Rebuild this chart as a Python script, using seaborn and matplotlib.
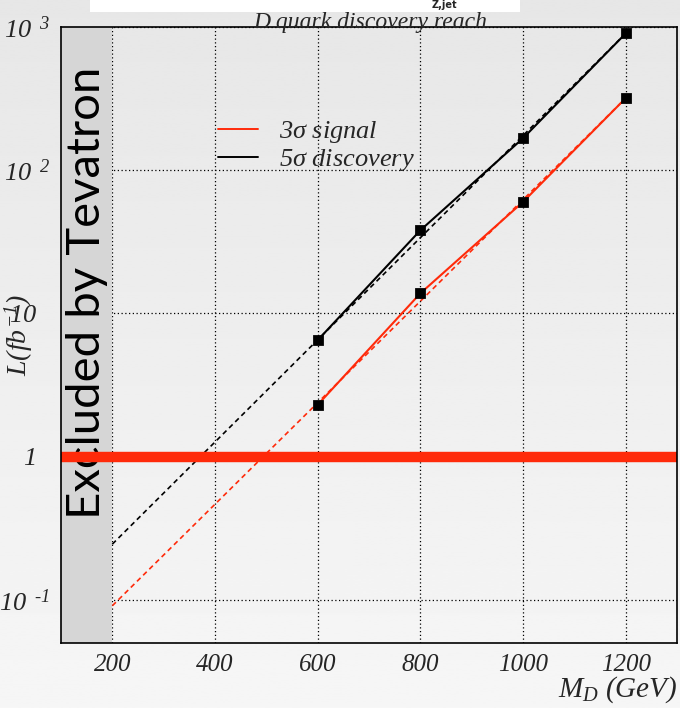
import matplotlib
matplotlib.use("Agg")
import matplotlib.pyplot as plt
import seaborn as sns
import numpy as np
import pandas as pd
from matplotlib.ticker import FixedLocator, MultipleLocator, NullFormatter, LogLocator
from matplotlib.lines import Line2D
from matplotlib.transforms import ScaledTranslation

# ---- data ----
masses = [600, 800, 1000, 1200]
lumi_3sigma = [2.3, 13.8, 60.0, 318.0]
lumi_5sigma = [6.5, 38.0, 167.0, 900.0]
fit_x = [200, 1200]
fit_3sigma = [0.091, 318.0]
fit_5sigma = [0.245, 900.0]
excluded_range = [100, 200]
x_ticks = [200, 400, 600, 800, 1000, 1200]
y_ticks = [0.1, 1, 10, 100, 1000]
y_tick_labels = [r"$10^{\ \ \text{-}1}$", r"$1$", r"$10$",
                 r"$10^{\ \ 2}$", r"$10^{\ \ 3}$"]
series_names = [r"3$\sigma$ signal", r"5$\sigma$ discovery"]

sns.set_theme(style="white")
plt.rcParams["font.family"] = ["Liberation Serif", "DejaVu Serif"]
plt.rcParams["mathtext.fontset"] = "custom"
plt.rcParams["mathtext.it"] = "Liberation Serif:italic"
plt.rcParams["mathtext.rm"] = "Liberation Serif:italic"
plt.rcParams["mathtext.sf"] = "Liberation Serif:italic"

fig = plt.figure(figsize=(6.8, 7.08), dpi=100, facecolor="#ececec")
# soft vertical gradient background
bg = fig.add_axes([0, 0, 1, 1], zorder=-10)
grad = np.linspace(0.905, 0.965, 256).reshape(-1, 1)
bg.imshow(grad, cmap="gray", vmin=0, vmax=1, aspect="auto", extent=[0, 1, 0, 1], origin="upper")
bg.axis("off")

ax = fig.add_axes([0.0897, 0.0918, 0.9059, 0.8702])
ax.set_facecolor("none")

df = pd.DataFrame({
    "M": masses * 2,
    "L": lumi_3sigma + lumi_5sigma,
    "series": [series_names[0]] * 4 + [series_names[1]] * 4,
})
palette = {series_names[0]: "#ff2a0a", series_names[1]: "black"}

# fit dashed lines
fit_df = pd.DataFrame({"M": fit_x * 2, "L": fit_3sigma + fit_5sigma,
                       "series": [series_names[0]] * 2 + [series_names[1]] * 2})
sns.lineplot(data=fit_df, x="M", y="L", hue="series", palette=palette, ax=ax,
             linestyle=(0, (3, 2.2)), linewidth=1.2, legend=False, zorder=3)

sns.lineplot(data=df, x="M", y="L", hue="series", palette=palette, ax=ax,
             linewidth=1.5, legend=False, zorder=4)
sns.scatterplot(data=df, x="M", y="L", color="black", marker="s", s=50,
                edgecolor="black", ax=ax, legend=False, zorder=5)

ax.set_yscale("log")
ax.set_xlim(100, 1300)
ax.set_ylim(0.05, 1000)

# excluded region
ax.axvspan(excluded_range[0], excluded_range[1], color="#d6d6d6", zorder=1, lw=0)
ax.text(150, 14, "Excluded by Tevatron", rotation=90, ha="center", va="center",
        fontsize=34, family=["Lato", "DejaVu Sans"], color="black", zorder=6)

# horizontal line at 1
ax.axhline(1, color="#ff2a0a", lw=7.5, zorder=6, solid_capstyle="butt")

# ticks / grid
ax.xaxis.set_major_locator(FixedLocator(x_ticks))
ax.xaxis.set_minor_locator(MultipleLocator(50))
ax.set_xticklabels([str(v) for v in x_ticks], fontsize=18, style="italic")
ax.yaxis.set_major_locator(FixedLocator(y_ticks))
ax.set_yticklabels(y_tick_labels, fontsize=19)
ax.yaxis.set_minor_locator(LogLocator(base=10, subs=np.arange(2, 10)))
ax.yaxis.set_minor_formatter(NullFormatter())
ax.tick_params(axis="both", which="major", direction="in", length=10, width=1, color="black", pad=8)
ax.tick_params(axis="both", which="minor", direction="in", length=5, width=1, color="black")
ax.tick_params(axis="y", which="major", pad=8)
ax.grid(True, which="major", linestyle=(0, (1, 2)), color="black", linewidth=0.9)
for s in ax.spines.values():
    s.set_color("black")
    s.set_linewidth(1.2)
    s.set_zorder(10)

# shift the plain "1" and "10" labels left (ROOT-like alignment)
label_shift_px = {1: -15, 2: -13}
yticks_objs = ax.yaxis.get_major_ticks()
for idx, dx in label_shift_px.items():
    lbl = yticks_objs[idx].label1
    lbl.set_transform(lbl.get_transform() + ScaledTranslation(dx / 100, 0, fig.dpi_scale_trans))

ax.set_xlabel(r"$M_{D}\ (GeV)$", fontsize=21, loc="right", labelpad=2)
ax.set_ylabel(r"$L(fb^{-1})$", fontsize=20, labelpad=4)
ax.yaxis.set_label_coords(-0.042, 0.5)
ax.xaxis.set_label_coords(1.0, -0.051)

# legend
handles = [Line2D([], [], color="#ff2a0a", lw=1.4), Line2D([], [], color="black", lw=1.4)]
leg = ax.legend(handles, series_names, loc="upper left", bbox_to_anchor=(0.255, 0.85),
                frameon=False, handlelength=1.5, handletextpad=0.8,
                borderpad=0, borderaxespad=0,
                labelspacing=0.08, prop={"style": "italic", "size": 19})

# title and top cut-off box
fig.patches.append(plt.Rectangle((0.132, 0.983), 0.633, 0.03, transform=fig.transFigure,
                                 facecolor="white", edgecolor="none", zorder=5))
fig.text(0.545, 0.983, "D quark discovery reach", ha="center", va="top",
         fontsize=17, style="italic", zorder=7)
fig.text(0.635, 0.9995, r"Z,jet", ha="left", va="top", fontsize=7, weight="bold",
         family=["DejaVu Sans"], zorder=6)

fig.savefig("out.png", dpi=100, facecolor=fig.get_facecolor())
